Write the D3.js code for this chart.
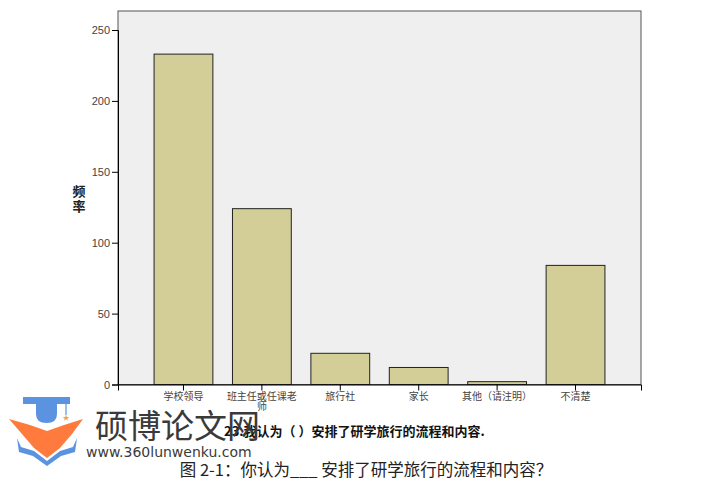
<!DOCTYPE html>
<html><head><meta charset="utf-8">
<script src="https://cdn.jsdelivr.net/npm/d3@7/dist/d3.min.js"></script>
<style>body{margin:0;background:#fff}svg{display:block}</style>
</head><body>
<script>
const categories = ["学校领导", "班主任或任课老师", "旅行社", "家长", "其他（请注明）", "不清楚"];
const labelLines = [["学校领导"], ["班主任或任课老", "师"], ["旅行社"], ["家长"], ["其他（请注明）"], ["不清楚"]];
const values = [233, 124, 22, 12, 2, 84];
const yTicks = [0, 50, 100, 150, 200, 250];
const yLabel = "频率";
const questionText = "23.我认为（  ）安排了研学旅行的流程和内容.";
const captionText = "图 2-1：你认为___ 安排了研学旅行的流程和内容？";

const W = 727, H = 487;
const svg = d3.select("body").append("svg").attr("width", W).attr("height", H);
const plot = {left: 118, right: 641, top: 11, bottom: 384.5};

svg.append("rect").attr("x", plot.left).attr("y", plot.top)
  .attr("width", plot.right - plot.left).attr("height", plot.bottom - plot.top)
  .attr("fill", "#efefef").attr("stroke", "#555").attr("stroke-width", 1);

const x = d3.scaleBand().domain(categories).range([plot.left, plot.right])
  .paddingInner(0.25).paddingOuter(0.46);
const y = d3.scaleLinear().domain([0, 250]).range([plot.bottom, 30]);

svg.selectAll("rect.bar").data(values).join("rect").attr("class", "bar")
  .attr("x", (d, i) => x(categories[i]))
  .attr("y", d => y(d))
  .attr("width", x.bandwidth())
  .attr("height", d => y(0) - y(d))
  .attr("fill", "#d3ce97").attr("stroke", "#222").attr("stroke-width", 1);

const yAxis = d3.axisLeft(y).tickValues(yTicks).tickSize(6).tickPadding(2);
const gy = svg.append("g").attr("transform", `translate(${plot.left},0)`).call(yAxis);
gy.select(".domain").attr("stroke", "#000");
gy.selectAll(".tick line").attr("stroke", "#000");
gy.selectAll(".tick text").attr("fill", "#444").attr("font-family", "Liberation Sans, Arial, sans-serif").attr("font-size", 11);

const xAxis = d3.axisBottom(x).tickSize(6).tickFormat("");
const gx = svg.append("g").attr("transform", `translate(0,${plot.bottom})`).call(xAxis);
gx.select(".domain").attr("stroke", "#000");
gx.selectAll(".tick line").attr("stroke", "#000");

svg.append("g").selectAll("text").data(categories).join("text")
  .attr("x", d => x(d) + x.bandwidth() / 2)
  .attr("y", 400)
  .attr("text-anchor", "middle")
  .attr("font-family", "Noto Sans CJK SC, sans-serif")
  .attr("font-size", 10).attr("fill", "#444")
  .each(function(d, i) {
    const t = d3.select(this);
    labelLines[i].forEach((ln, j) => {
      t.append("tspan").attr("x", x(d) + x.bandwidth() / 2).attr("dy", j === 0 ? 0 : 10).text(ln);
    });
  });

// y label stacked vertically
svg.append("g").selectAll("text").data(yLabel.split("")).join("text")
  .attr("x", 79).attr("y", (d, i) => 196 + i * 15)
  .attr("text-anchor", "middle")
  .attr("font-family", "Noto Sans CJK SC, sans-serif")
  .attr("font-weight", "bold").attr("font-size", 13).attr("fill", "#222")
  .text(d => d);

// question text
svg.append("text").attr("x", 224).attr("y", 436)
  .attr("font-family", "Noto Sans CJK SC, sans-serif").attr("font-weight", "bold")
  .attr("font-size", 13).attr("fill", "#111").text(questionText);

// caption
svg.append("text").attr("x", 366).attr("y", 476).attr("text-anchor", "middle")
  .attr("font-family", "Noto Sans CJK SC, sans-serif")
  .attr("font-size", 16.5).attr("fill", "#222").text(captionText);

// watermark logo
const logo = svg.append("g");
logo.append("path").attr("d", "M23,397 L70,397 L70,404 L23,404 Z").attr("fill", "#5b93e0");
logo.append("path").attr("d", "M36,404 L57,404 L57,414 Q57,423 46.5,423 Q36,423 36,414 Z").attr("fill", "#5b93e0");
logo.append("line").attr("x1", 66).attr("y1", 400).attr("x2", 66).attr("y2", 415).attr("stroke", "#5b93e0").attr("stroke-width", 1.2);
logo.append("path").attr("d", d3.symbol(d3.symbolStar, 14)()).attr("transform", "translate(66,418)").attr("fill", "#f4a13c");
logo.append("path").attr("d", "M9,419 L30,425 L47,431 L64,425 L83,419 L72,434 L60,448 L47,458 L34,448 L22,434 Z").attr("fill", "#ff7a3d");
logo.append("path").attr("d", "M17,438 L21,447 L34,451 L47,461 L60,451 L73,447 L77,438 L75,452 L61,456 L47,466 L33,456 L19,452 Z").attr("fill", "#5b93e0");

svg.append("text").attr("x", 95).attr("y", 438)
  .attr("font-family", "Noto Sans CJK SC, sans-serif")
  .attr("font-size", 33).attr("fill", "#3a3a3a").text("硕博论文网");
svg.append("text").attr("x", 86).attr("y", 457)
  .attr("font-family", "DejaVu Sans, sans-serif")
  .attr("font-size", 14).attr("fill", "#3a3a3a").text("www.360lunwenku.com");
</script>
</body></html>
